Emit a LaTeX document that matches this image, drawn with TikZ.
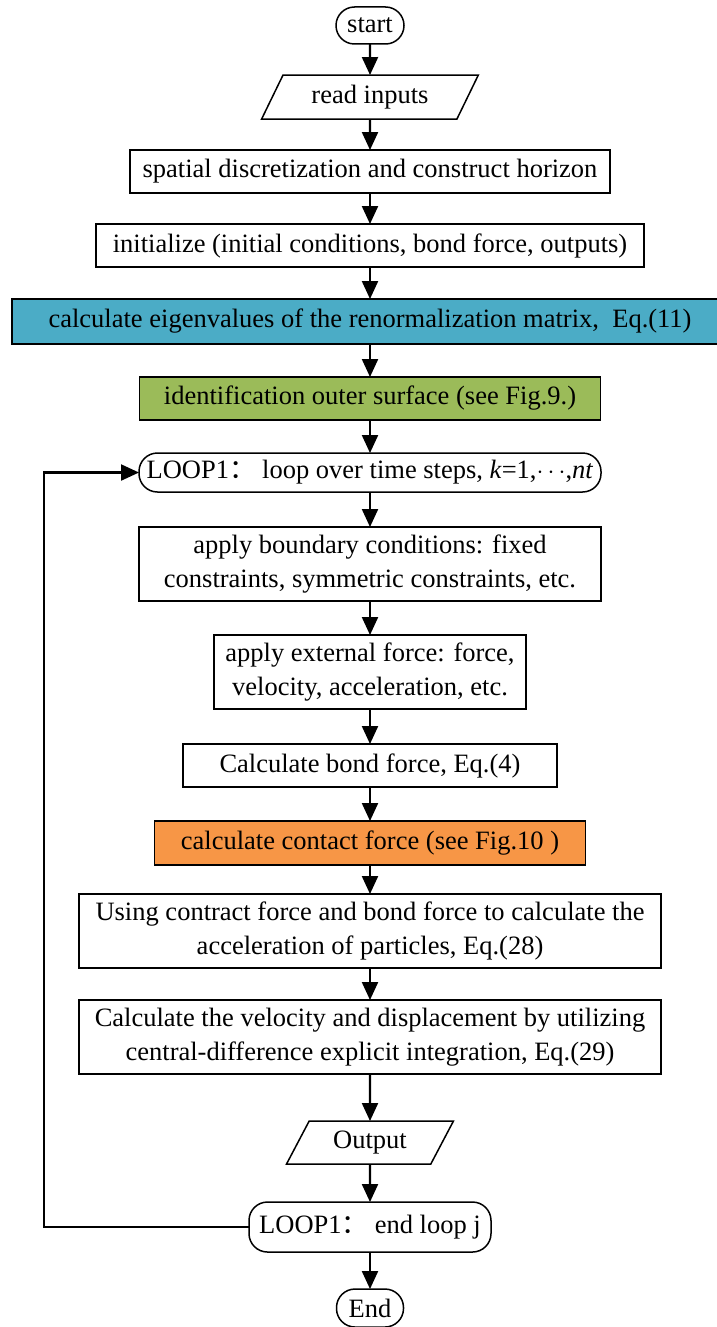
\documentclass[tikz,border=0pt]{standalone}
\usepackage{fontspec}
\setmainfont{Liberation Serif}
\newfontfamily\cjk{Noto Sans CJK SC}
\usepackage{xcolor}
\usepackage{tikz}
\usetikzlibrary{arrows.meta, positioning, shapes.geometric}
\definecolor{eigblue}{RGB}{75,172,198}
\definecolor{surfgreen}{RGB}{155,187,89}
\definecolor{contorange}{RGB}{247,150,70}

\begin{document}
\begin{tikzpicture}[
      x=1pt, y=1pt,
      node distance=32pt,
      every node/.style={draw, line width=1.5pt, outer sep=0pt, font=\fontsize{26.5}{34}\selectfont, align=center, inner sep=2pt},
      box/.style={rectangle, minimum height=43pt},
      term/.style={rectangle, rounded corners=18.5pt},
      io/.style={trapezium, trapezium left angle=62, trapezium right angle=118, trapezium stretches=true},
      arrow/.style={-{Triangle[length=18pt, width=16pt]}, line width=2.2pt}
    ]
    \useasboundingbox (0,0) rectangle (717,-1327);

    \node (start) [term, minimum width=68pt, minimum height=37pt] at (370,-25.5) {start};
    \node (read) [io, below=31pt of start, minimum width=217pt, minimum height=44pt] {read inputs};
    \node (disc) [box, below=31pt of read, minimum width=480pt] {spatial discretization and construct horizon};
    \node (init) [box, below=31pt of disc, minimum width=548pt] {initialize (initial conditions, bond force, outputs)};
    \node (eig) [box, below=of init, minimum width=716pt, minimum height=45pt, fill=eigblue] {calculate eigenvalues of the renormalization matrix,\ \ Eq.(11)};
    \node (surf) [box, below=33pt of eig, minimum width=461pt, fill=surfgreen] {identification outer surface (see Fig.9.)};
    \node (loop) [term, below=33pt of surf, minimum width=462pt, minimum height=39pt] {LOOP1{\cjk ：}\ loop over time steps, \textit{k}=1,$\cdots$,\textit{nt}};

    \node (bc) [box, below=35pt of loop, minimum width=462pt, minimum height=74pt] {apply boundary conditions: fixed\\constraints, symmetric constraints, etc.};
    \node (ext) [box, below=34pt of bc, minimum width=312pt, minimum height=74pt] {apply external force: force,\\velocity, acceleration, etc.};
    \node (bond) [box, below=35pt of ext, minimum width=374pt] {Calculate bond force, Eq.(4)};
    \node (contact) [box, below=34pt of bond, minimum width=431pt, minimum height=44pt, fill=contorange] {calculate contact force (see Fig.10 )};
    \node (acc) [box, below=29pt of contact, minimum width=582pt, minimum height=74pt] {Using contract force and bond force to calculate the\\acceleration of particles, Eq.(28)};
    \node (vel) [box, below=of acc, minimum width=582pt, minimum height=74pt] {Calculate the velocity and displacement by utilizing\\central-difference explicit integration, Eq.(29)};
    \node (out) [io, below=47pt of vel, minimum width=167pt, minimum height=43pt] {Output};
    \node (endloop) [term, below=38pt of out, minimum width=242pt, minimum height=50pt] {LOOP1{\cjk ：}\ end loop j};
    \node (stop) [term, below=37pt of endloop, minimum width=67pt, minimum height=38pt] {End};

    \coordinate (back) at (44,0);

    \draw[arrow] (start) -- (read);
    \draw[arrow] (read) -- (disc);
    \draw[arrow] (disc) -- (init);
    \draw[arrow] (init) -- (eig);
    \draw[arrow] (eig) -- (surf);
    \draw[arrow] (surf) -- (loop);
    \draw[arrow] (loop) -- (bc);
    \draw[arrow] (bc) -- (ext);
    \draw[arrow] (ext) -- (bond);
    \draw[arrow] (bond) -- (contact);
    \draw[arrow] (contact) -- (acc);
    \draw[arrow] (acc) -- (vel);
    \draw[arrow] (vel) -- (out);
    \draw[arrow] (out) -- (endloop);
    \draw[arrow] (endloop) -- (stop);
    \draw[arrow] (endloop.west) -- (endloop.west -| back) |- (loop.west);

    \end{tikzpicture}
\end{document}
